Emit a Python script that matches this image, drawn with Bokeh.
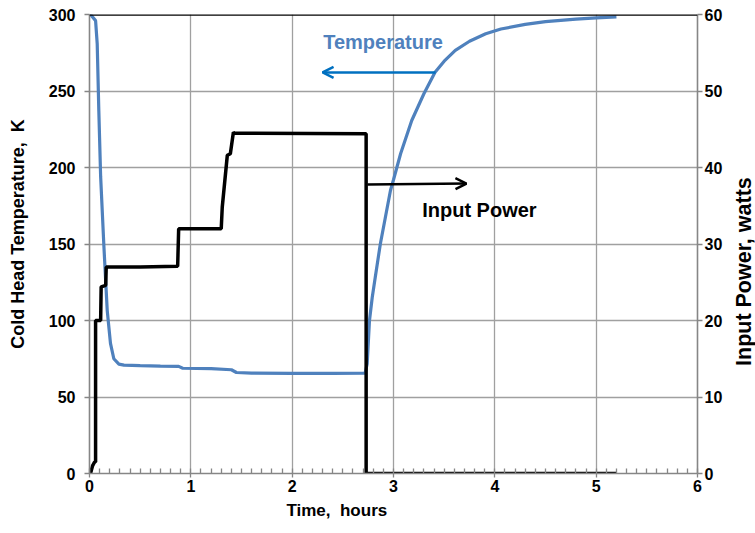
import math
from bokeh.plotting import figure
from bokeh.models import (Range1d, LinearAxis, Label, Arrow, OpenHead, Span,
                          SingleIntervalTicker, FixedTicker)
from bokeh.embed import file_html
from bokeh.resources import INLINE

# ---- data ----
t_temp = [0, 0.01, 0.06, 0.076, 0.092, 0.11, 0.141, 0.158, 0.175, 0.207, 0.24,
          0.29, 0.34, 0.5, 0.7, 0.88, 0.92, 1.2, 1.4, 1.45, 1.6, 2.0, 2.4, 2.72,
          2.74, 2.763, 2.79, 2.82, 2.87, 2.92, 2.97, 3.0, 3.07, 3.18, 3.30,
          3.41, 3.5, 3.61, 3.75, 3.91, 4.06, 4.3, 4.5, 4.8, 5.0, 5.2]
temp = [300, 300, 296, 281, 237, 194, 150, 128, 106.5, 85, 75,
        71.5, 70.8, 70.5, 70.2, 70, 68.8, 68.5, 67.8, 66, 65.6, 65.5, 65.5, 65.6,
        71.7, 100, 115, 128.3, 150, 167.5, 185, 192, 209, 230.7, 248.2,
        262.3, 269.5, 276.5, 282.5, 287.4, 290.5, 293.5, 295.3, 297, 297.8, 298.5]

t_pow = [0, 0.01, 0.03, 0.05, 0.06, 0.06, 0.11, 0.115, 0.16, 0.165, 0.5, 0.87,
         0.88, 1.30, 1.31, 1.36, 1.39, 1.42, 1.43, 2.73, 2.73, 5.2]
power = [0, 0, 1, 1.5, 1.5, 20, 20, 24.4, 24.6, 27, 27, 27.1,
         32, 32, 34.8, 41.6, 41.8, 44.6, 44.5, 44.4, 0, 0]

x_ticks = [0, 1, 2, 3, 4, 5, 6]
temp_ticks = [0, 50, 100, 150, 200, 250, 300]
power_ticks = [0, 10, 20, 30, 40, 50, 60]

FONT = "Liberation Sans"
AXIS_GRAY = "#868686"
GRID_GRAY = "#A0A0A0"
NB = "\u00a0"

p = figure(frame_width=608, frame_height=459, output_backend="svg",
           toolbar_location=None,
           x_range=Range1d(0, 6), y_range=Range1d(0, 300),
           min_border_left=89, min_border_right=56, min_border_top=14,
           min_border_bottom=58)
p.outline_line_color = None
p.background_fill_color = "white"
p.border_fill_color = "white"
p.extra_y_ranges = {"power": Range1d(0, 60)}

# grid
p.xgrid.ticker = FixedTicker(ticks=x_ticks)
p.ygrid.ticker = FixedTicker(ticks=temp_ticks)
for g in (p.xgrid, p.ygrid):
    g.grid_line_color = GRID_GRAY
    g.grid_line_width = 1.3

# x axis
xa = p.xaxis[0]
xa.ticker = SingleIntervalTicker(interval=1, num_minor_ticks=10)
xa.axis_label = "Time," + NB + " hours" + NB * 24
xa.major_tick_out = 4
xa.major_tick_in = 0
xa.minor_tick_in = 5
xa.minor_tick_out = 0
xa.major_label_standoff = 2
xa.axis_label_standoff = 6

# left axis
ya = p.yaxis[0]
ya.ticker = FixedTicker(ticks=temp_ticks)
ya.axis_label = NB * 4 + "Cold Head Temperature," + NB + " K"
ya.major_tick_out = 5
ya.major_tick_in = 0
ya.minor_tick_out = 0
ya.minor_tick_in = 0
ya.major_label_standoff = 9
ya.axis_label_standoff = 18

# right axis
ra = LinearAxis(y_range_name="power", ticker=FixedTicker(ticks=power_ticks))
ra.axis_label_orientation = math.pi / 2
if "axis_label_align" in ra.properties():
    ra.axis_label_align = "start"
    ra.axis_label = NB * 18 + "Input Power, watts"
else:
    ra.axis_label = "Input Power, watts"
ra.major_tick_out = 5
ra.major_tick_in = 0
ra.minor_tick_out = 0
ra.minor_tick_in = 0
ra.major_label_standoff = 2
ra.axis_label_standoff = 19
p.add_layout(ra, "right")

for ax in (xa, ya, ra):
    ax.axis_line_color = AXIS_GRAY
    ax.axis_line_width = 1.6
    ax.major_tick_line_color = AXIS_GRAY
    ax.minor_tick_line_color = AXIS_GRAY
    ax.major_tick_line_width = 1.3
    ax.minor_tick_line_width = 1.3
    ax.major_label_text_font = FONT
    ax.major_label_text_font_style = "bold"
    ax.major_label_text_font_size = "16px"
    ax.major_label_text_color = "black"
    ax.axis_label_text_font = FONT
    ax.axis_label_text_font_style = "bold"
    ax.axis_label_text_color = "black"
xa.axis_label_text_font_size = "17px"
ya.axis_label_text_font_size = "18px"
ra.axis_label_text_font_size = "21.5px"
ra.axis_label_text_line_height = 0.9

# top border (black)
p.add_layout(Span(location=300, dimension="width", line_color="black",
                  line_width=2.5))

# series
p.line(t_temp, temp, line_color="#4F81BD", line_width=3.2)
p.line(t_pow, power, y_range_name="power", line_color="black", line_width=3.5)

# annotations
p.add_layout(Label(x=2.306, y=281.7, text="Temperature", text_align="left",
                   text_baseline="middle", text_color="#4F81BD",
                   text_font=FONT, text_font_style="bold",
                   text_font_size="20px"))
p.add_layout(Arrow(x_start=3.415, y_start=262.1, x_end=2.30, y_end=262.1,
                   line_color="#0070C0", line_width=2.5,
                   end=OpenHead(size=11, line_color="#0070C0", line_width=2.5)))
p.add_layout(Label(x=3.283, y=171.9, text="Input Power", text_align="left",
                   text_baseline="middle", text_color="black",
                   text_font=FONT, text_font_style="bold",
                   text_font_size="20px"))
p.add_layout(Arrow(x_start=2.743, y_start=188.9, x_end=3.72, y_end=189.5,
                   line_color="black", line_width=2.5,
                   end=OpenHead(size=11, line_color="black", line_width=2.5)))

open("out.html", "w").write(file_html(p, INLINE))
